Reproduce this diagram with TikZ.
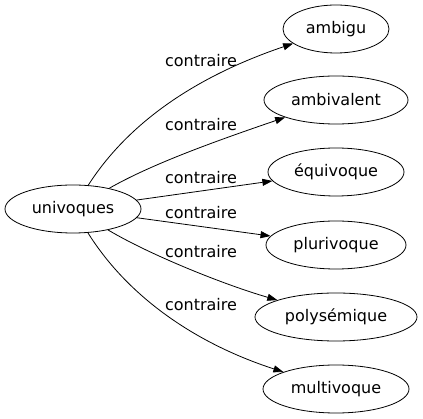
\documentclass[tikz,border=0pt]{standalone}
\usepackage{fontspec}
\setmainfont{DejaVu Sans}
\usetikzlibrary{shapes.geometric,arrows.meta}

\begin{document}
\begin{tikzpicture}[x=1pt, y=-1pt, line width=0.8pt, font=\fontsize{16}{19}\selectfont,
		node_style/.style={ellipse,draw=black,fill=white,inner sep=0pt,minimum height=48pt},
		edge_style/.style={draw=black,-{Triangle[length=10pt,width=7pt]}},
		label_style/.style={inner sep=0pt}]

		\useasboundingbox (0,0) rectangle (423,419);

		\node[node_style,minimum width=136pt] (univoques) at (73,209) {univoques};
		\node[node_style,minimum width=106pt] (ambigu) at (336,29) {ambigu};
		\node[node_style,minimum width=144pt] (ambivalent) at (336,100) {ambivalent};
		\node[node_style,minimum width=136pt] (equivoque) at (336,172) {équivoque};
		\node[node_style,minimum width=140pt] (plurivoque) at (336,245) {plurivoque};
		\node[node_style,minimum width=162pt] (polysemique) at (336,317) {polysémique};
		\node[node_style,minimum width=146pt] (multivoque) at (336,389) {multivoque};

		\node[label_style] (l_ambigu) at (201,61) {contraire};
		\node[label_style] (l_ambivalent) at (201,125) {contraire};
		\node[label_style] (l_equivoque) at (201,178) {contraire};
		\node[label_style] (l_plurivoque) at (201,213) {contraire};
		\node[label_style] (l_polysemique) at (201,252) {contraire};
		\node[label_style] (l_multivoque) at (201,305) {contraire};

		\draw[edge_style] (univoques) .. controls (130,120) and (200,75) .. (ambigu);
		\draw[edge_style] (univoques) .. controls (150,165) and (210,143) .. (ambivalent);
		\draw[edge_style] (univoques) -- (equivoque);
		\draw[edge_style] (univoques) -- (plurivoque);
		\draw[edge_style] (univoques) .. controls (150,255) and (225,285) .. (polysemique);
		\draw[edge_style] (univoques) .. controls (130,300) and (200,345) .. (multivoque);

\end{tikzpicture}
\end{document}
